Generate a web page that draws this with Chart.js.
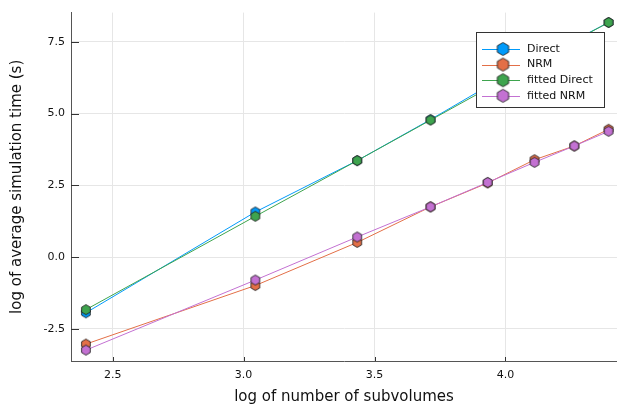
<!DOCTYPE html>
<html><head><meta charset="utf-8">
<script src="https://cdn.jsdelivr.net/npm/chart.js@4.4.0/dist/chart.umd.min.js"></script>
<style>html,body{margin:0;padding:0;background:#fff;overflow:hidden;}</style>
</head><body>
<canvas id="c" width="617" height="404"></canvas>
<script>
// ---- data ----
const categories   = [2.398, 3.045, 3.434, 3.714, 3.932, 4.111, 4.263, 4.394]; // log of number of subvolumes
const direct       = [-1.94, 1.57, 3.36, 4.79, 5.95, 6.85, 7.55, 8.17];
const nrm          = [-3.03, -0.99, 0.51, 1.75, 2.58, 3.39, 3.87, 4.45];
const fittedDirect = [-1.83, 1.42, 3.36, 4.77, 5.87, 6.77, 7.53, 8.17];
const fittedNrm    = [-3.24, -0.80, 0.70, 1.75, 2.60, 3.30, 3.87, 4.38];
const xTicks = [2.5, 3.0, 3.5, 4.0];
const yTicks = [-2.5, 0.0, 2.5, 5.0, 7.5];
const seriesNames = ['Direct', 'NRM', 'fitted Direct', 'fitted NRM'];
const seriesValues = [direct, nrm, fittedDirect, fittedNrm];

const colors = ['#009AFA', '#E36F47', '#3EA44E', '#C371D2'];
const FONT = "'DejaVu Sans', sans-serif";

function hexImage(color, r) {
  const w = Math.ceil(2 * r * Math.cos(Math.PI / 6)) + 3, h = Math.ceil(2 * r) + 3;
  const c = document.createElement('canvas'); c.width = w; c.height = h;
  const g = c.getContext('2d');
  g.beginPath();
  for (let i = 0; i < 6; i++) {
    const a = Math.PI / 2 + i * Math.PI / 3;
    const px = w / 2 + r * Math.cos(a), py = h / 2 - r * Math.sin(a);
    i ? g.lineTo(px, py) : g.moveTo(px, py);
  }
  g.closePath();
  g.fillStyle = color; g.fill();
  g.lineWidth = 1; g.strokeStyle = 'rgba(30,30,30,0.85)'; g.stroke();
  return c;
}
const plotMarks = colors.map(c => hexImage(c, 5));
const legendMarks = colors.map(c => hexImage(c, 6.5));

const datasets = seriesNames.map((name, i) => ({
  label: name,
  data: categories.map((x, j) => ({ x: x, y: seriesValues[i][j] })),
  showLine: true,
  borderColor: colors[i],
  backgroundColor: colors[i],
  borderWidth: 1,
  pointStyle: plotMarks[i],
  pointRadius: 0.1,
  pointHoverRadius: 0,
  pointBorderWidth: 0,
  order: 4 - i,
  clip: false
}));

const insideTicks = {
  id: 'insideTicks',
  beforeDatasetsDraw(chart) {
    const { ctx, chartArea: a, scales: { x, y } } = chart;
    ctx.save();
    ctx.strokeStyle = '#333'; ctx.lineWidth = 1;
    ctx.beginPath();
    yTicks.forEach(v => { const py = Math.round(y.getPixelForValue(v)) + 0.5; ctx.moveTo(a.left, py); ctx.lineTo(a.left + 8, py); });
    xTicks.forEach(v => { const px = Math.round(x.getPixelForValue(v)) + 0.5; ctx.moveTo(px, a.bottom); ctx.lineTo(px, a.bottom - 4); });
    ctx.stroke();
    ctx.restore();
  }
};

const boxLegend = {
  id: 'boxLegend',
  afterDatasetsDraw(chart) {
    const ctx = chart.ctx;
    const L = 476, T = 32, R = 605, B = 108;
    ctx.save();
    ctx.fillStyle = '#fff';
    ctx.fillRect(L, T, R - L, B - T);
    ctx.strokeStyle = '#333'; ctx.lineWidth = 1;
    ctx.strokeRect(L + 0.5, T + 0.5, R - L - 1, B - T - 1);
    ctx.font = '11px ' + FONT;
    ctx.textBaseline = 'middle'; ctx.textAlign = 'left';
    seriesNames.forEach((name, i) => {
      const cy = 49 + i * 15.6;
      ctx.strokeStyle = colors[i]; ctx.lineWidth = 1;
      ctx.beginPath(); ctx.moveTo(482, Math.round(cy) + 0.5); ctx.lineTo(520, Math.round(cy) + 0.5); ctx.stroke();
      const img = legendMarks[i];
      ctx.drawImage(img, 503 - img.width / 2, cy - img.height / 2);
      ctx.fillStyle = '#111';
      ctx.fillText(name, 527, cy);
    });
    ctx.restore();
  }
};

new Chart(document.getElementById('c'), {
  type: 'scatter',
  data: { datasets },
  plugins: [insideTicks, boxLegend],
  options: {
    responsive: false,
    animation: false,
    events: [],
    layout: { autoPadding: false, padding: { top: 10, right: 0, left: 0, bottom: 0 } },
    plugins: { legend: { display: false }, tooltip: { enabled: false } },
    scales: {
      x: {
        type: 'linear', min: 2.341, max: 4.426,
        afterBuildTicks: s => { s.ticks = xTicks.map(v => ({ value: v })); },
        afterFit: s => { s.height = 43; },
        grid: { color: '#e6e6e6', lineWidth: 1, drawTicks: false },
        border: { display: true, color: '#555', width: 1 },
        ticks: { padding: 8, color: '#111', font: { family: FONT, size: 11 }, callback: v => Number(v).toFixed(1), maxRotation: 0 },
        title: { display: true, text: 'log of number of subvolumes', color: '#111', font: { family: FONT, size: 15, lineHeight: 1 }, padding: { top: 0, bottom: -1 } }
      },
      y: {
        type: 'linear', min: -3.619, max: 8.514,
        afterBuildTicks: s => { s.ticks = yTicks.map(v => ({ value: v })); },
        afterFit: s => { s.width = 71; },
        grid: { color: '#e6e6e6', lineWidth: 1, drawTicks: false },
        border: { display: true, color: '#555', width: 1 },
        ticks: { padding: 6, color: '#111', font: { family: FONT, size: 11 }, callback: v => Number(v).toFixed(1) },
        title: { display: true, text: 'log of average simulation time (s)', color: '#111', font: { family: FONT, size: 15, lineHeight: 1 }, padding: { top: 9.5, bottom: 0 } }
      }
    }
  }
});
</script>
</body></html>
